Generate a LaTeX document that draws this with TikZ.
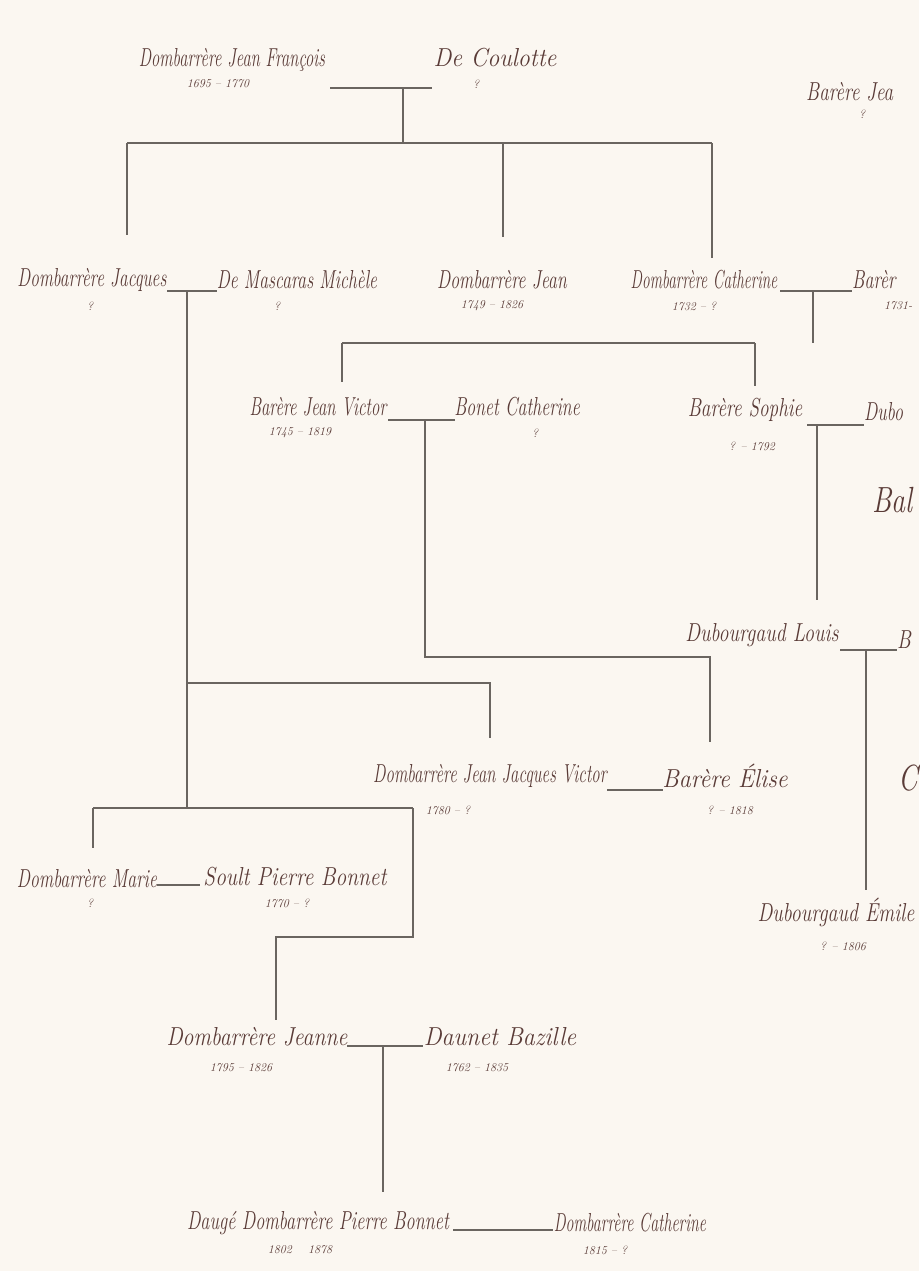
\documentclass[tikz,border=0pt]{standalone}
\usepackage{fontspec}
\definecolor{paper}{HTML}{FBF7F1}
\definecolor{ink}{HTML}{5A3B37}
\definecolor{wire}{HTML}{6A6560}
\newcommand\nmbox[2]{\scalebox{#1}[1.3]{#2}}
\tikzset{
  person/.style={inner sep=0pt, text=ink, font=\fontsize{20}{20}\selectfont\itshape},
  bigperson/.style={person, font=\fontsize{28}{28}\selectfont\itshape},
  dates/.style={inner sep=0pt, text=ink, font=\fontsize{12}{12}\selectfont\itshape},
  wireline/.style={draw=wire, line width=1.3pt}
}
\begin{document}
\begin{tikzpicture}[x=1pt,y=-1pt]
\fill[paper] (0,0) rectangle (919,1271);
\useasboundingbox (0,0) rectangle (919,1271);

% ---------- people ----------
\node[person] (jf) at (232,60) {\nmbox{0.83}{Dombarrère Jean François}};
\node[dates] (jfd) at (218,84) {1695 -- 1770};
\node[person] (dc) at (495,58) {\nmbox{1.2}{De Coulotte}};
\node[dates] (dcd) at (476,84) {?};
\node[person, anchor=west] (bj) at (806,92) {\nmbox{0.95}{Barère Jea}};
\node[dates] (bjd) at (862,114) {?};

\node[person] (jac) at (92,280) {\nmbox{0.87}{Dombarrère Jacques}};
\node[dates] (jacd) at (90,306) {?};
\node[person] (mic) at (297,280) {\nmbox{0.88}{De Mascaras Michèle}};
\node[dates] (micd) at (277,306) {?};
\node[person] (jea) at (502,280) {\nmbox{0.89}{Dombarrère Jean}};
\node[dates] (jead) at (492,306) {1749 -- 1826};
\node[person] (cat) at (704,280) {\nmbox{0.77}{Dombarrère Catherine}};
\node[dates] (catd) at (694,306) {1732 -- ?};
\node[person, anchor=west] (bar) at (852,280) {\nmbox{0.9}{Barèr}};
\node[dates, anchor=west] (bard) at (884,306) {1731-};

\node[person] (vic) at (318,407) {\nmbox{0.84}{Barère Jean Victor}};
\node[dates] (vicd) at (300,433) {1745 -- 1819};
\node[person] (bon) at (517,407) {\nmbox{0.89}{Bonet Catherine}};
\node[dates] (bond) at (535,433) {?};
\node[person] (sop) at (745,410) {\nmbox{0.96}{Barère Sophie}};
\node[dates] (sopd) at (752,446) {? -- 1792};
\node[person, anchor=west] (dub) at (864,412) {\nmbox{0.9}{Dubo}};
\node[bigperson, anchor=west] (bal) at (872,500) {\nmbox{1.0}{Bal}};

\node[person] (lou) at (762,635) {\nmbox{1.0}{Dubourgaud Louis}};
\node[person, anchor=west] (blo) at (897,640) {\nmbox{1.0}{B}};
\node[bigperson, anchor=west] (cas) at (898,778) {\nmbox{1.0}{C}};
\node[person] (emi) at (836,912) {\nmbox{1.0}{Dubourgaud Émile}};
\node[dates] (emid) at (843,946) {? -- 1806};

\node[person] (jjv) at (490,776) {\nmbox{0.84}{Dombarrère Jean Jacques Victor}};
\node[dates] (jjvd) at (448,810) {1780 -- ?};
\node[person] (eli) at (725,776) {\nmbox{1.2}{Barère Élise}};
\node[dates] (elid) at (730,810) {? -- 1818};

\node[person] (mar) at (87,879) {\nmbox{0.89}{Dombarrère Marie}};
\node[dates] (mard) at (90,903) {?};
\node[person] (sou) at (295,877) {\nmbox{1.07}{Soult Pierre Bonnet}};
\node[dates] (soud) at (287,903) {1770 -- ?};

\node[person] (jne) at (257,1037) {\nmbox{1.09}{Dombarrère Jeanne}};
\node[dates] (jned) at (241,1068) {1795 -- 1826};
\node[person] (baz) at (500,1037) {\nmbox{1.2}{Daunet Bazille}};
\node[dates] (bazd) at (477,1068) {1762 -- 1835};

\node[person] (pb) at (318,1223) {\nmbox{0.91}{Daugé Dombarrère Pierre Bonnet}};
\node[dates] (pbd) at (300,1250) {1802 \quad 1878};
\node[person] (ca2) at (630,1223) {\nmbox{0.8}{Dombarrère Catherine}};
\node[dates] (ca2d) at (605,1250) {1815 -- ?};

% ---------- junction coordinates ----------
\coordinate (m1a) at (330,88);  \coordinate (m1b) at (432,88);  \coordinate (m1c) at (403,88);
\coordinate (s1m) at (403,143);
\coordinate (s1l) at (127,143); \coordinate (s1r) at (712,143); \coordinate (s1j) at (503,143);
\coordinate (t1a) at (127,235); \coordinate (t1b) at (503,237); \coordinate (t1c) at (712,258);

\coordinate (m2a) at (167,291); \coordinate (m2b) at (217,291); \coordinate (m2c) at (187,291);
\coordinate (m3a) at (780,291); \coordinate (m3b) at (852,291); \coordinate (m3c) at (813,291);
\coordinate (s2m) at (813,343);
\coordinate (s2l) at (342,343); \coordinate (s2r) at (755,343);
\coordinate (t2a) at (342,382); \coordinate (t2b) at (755,386);

\coordinate (m4a) at (388,420); \coordinate (m4b) at (455,420); \coordinate (m4c) at (425,420);
\coordinate (k4a) at (425,657); \coordinate (k4b) at (710,657); \coordinate (k4c) at (710,742);

\coordinate (m5a) at (807,425); \coordinate (m5b) at (864,425); \coordinate (m5c) at (817,425);
\coordinate (t5) at (817,600);
\coordinate (m6a) at (840,650); \coordinate (m6b) at (897,650); \coordinate (m6c) at (866,650);
\coordinate (t6) at (866,890);

\coordinate (br1) at (187,683); \coordinate (br2) at (490,683); \coordinate (br3) at (490,738);
\coordinate (m7a) at (607,790); \coordinate (m7b) at (663,790);

\coordinate (s3c) at (187,808);
\coordinate (s3l) at (93,808); \coordinate (s3r) at (413,808);
\coordinate (t3a) at (93,848);
\coordinate (k3a) at (413,937); \coordinate (k3b) at (276,937); \coordinate (t3b) at (276,1020);
\coordinate (m8a) at (157,885); \coordinate (m8b) at (200,885);

\coordinate (m9a) at (347,1046); \coordinate (m9b) at (423,1046); \coordinate (m9c) at (383,1046);
\coordinate (t9) at (383,1192);
\coordinate (m10a) at (453,1230); \coordinate (m10b) at (553,1230);

% ---------- connectors ----------
\draw[wireline] (m1a) -- (m1b);
\draw[wireline] (m1c) -- (s1m);
\draw[wireline] (s1l) -- (s1r);
\draw[wireline] (s1l) -- (t1a);
\draw[wireline] (s1j) -- (t1b);
\draw[wireline] (s1r) -- (t1c);

\draw[wireline] (m2a) -- (m2b);
\draw[wireline] (m2c) -- (s3c);
\draw[wireline] (m3a) -- (m3b);
\draw[wireline] (m3c) -- (s2m);
\draw[wireline] (s2l) -- (s2r);
\draw[wireline] (s2l) -- (t2a);
\draw[wireline] (s2r) -- (t2b);

\draw[wireline] (m4a) -- (m4b);
\draw[wireline] (m4c) -- (k4a) -- (k4b) -- (k4c);

\draw[wireline] (m5a) -- (m5b);
\draw[wireline] (m5c) -- (t5);
\draw[wireline] (m6a) -- (m6b);
\draw[wireline] (m6c) -- (t6);

\draw[wireline] (br1) -- (br2) -- (br3);
\draw[wireline] (m7a) -- (m7b);

\draw[wireline] (s3l) -- (s3r);
\draw[wireline] (s3l) -- (t3a);
\draw[wireline] (s3r) -- (k3a) -- (k3b) -- (t3b);
\draw[wireline] (m8a) -- (m8b);

\draw[wireline] (m9a) -- (m9b);
\draw[wireline] (m9c) -- (t9);
\draw[wireline] (m10a) -- (m10b);
\end{tikzpicture}
\end{document}
